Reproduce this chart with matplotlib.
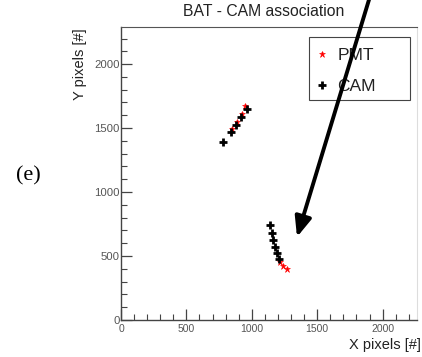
import numpy as np
import matplotlib.pyplot as plt
from matplotlib.ticker import MultipleLocator
from matplotlib.patches import Rectangle

# Reconstructed spot positions (pixel coordinates)
cam_x = [782, 839, 879, 920, 961, 1139, 1152, 1164, 1177, 1190, 1208]
cam_y = [1388, 1466, 1523, 1584, 1646, 742, 677, 625, 570, 523, 477]
pmt_x = [845, 885, 925, 950, 1216, 1241, 1267]
pmt_y = [1490, 1550, 1610, 1672, 453, 422, 396]

x_max = 2263
y_max = 2290

plt.rcParams['font.family'] = ['Liberation Sans', 'DejaVu Sans']

W, H = 422, 357
fig = plt.figure(figsize=(W / 100, H / 100), dpi=100)
ax = fig.add_axes([121 / W, 37 / H, 296 / W, 293 / H])

ax.plot(pmt_x, pmt_y, linestyle='none', marker='*', color='red', markersize=4.5,
        markeredgewidth=0.4, label='PMT')
ax.plot(cam_x, cam_y, linestyle='none', marker='+', color='black', markersize=6,
        markeredgewidth=2.0, label='CAM')

ax.set_xlim(0, x_max)
ax.set_ylim(0, y_max)

ax.xaxis.set_major_locator(MultipleLocator(500))
ax.xaxis.set_minor_locator(MultipleLocator(100))
ax.yaxis.set_major_locator(MultipleLocator(500))
ax.yaxis.set_minor_locator(MultipleLocator(100))
ax.tick_params(which='both', direction='in', top=False, right=False,
               colors='#444444', labelcolor='#555555')
ax.tick_params(which='major', length=8, width=0.9)
ax.tick_params(which='minor', length=4, width=0.8)
ax.tick_params(axis='x', pad=3, labelsize=7.5)
ax.tick_params(axis='y', pad=1, labelsize=8.2)

for side in ['left', 'bottom']:
    ax.spines[side].set_color('#444444')
    ax.spines[side].set_linewidth(1.0)
ax.spines['top'].set_color('#555555')
ax.spines['top'].set_linewidth(0.8)
ax.spines['right'].set_color('#dddddd')
ax.spines['right'].set_linewidth(0.8)

# axis titles, ROOT style: flush with the far ends
fig.text(421 / W, 1 - 345 / H, 'X pixels [#]', fontsize=10.5, ha='right', va='center',
         color='#222222')
fig.text(80 / W, 1 - 28 / H, 'Y pixels [#]', fontsize=10.5, ha='center', va='top',
         rotation=90, color='#222222')

fig.text(264 / W, 1 - 12 / H, 'BAT - CAM association', fontsize=11.3, ha='center',
         va='center', color='#222222')

# legend box
ax.add_patch(Rectangle((309 / W, 1 - 100 / H), 101 / W, 63 / H,
                       transform=fig.transFigure, facecolor='white',
                       edgecolor='#444444', linewidth=0.8, zorder=3, clip_on=False))
leg = ax.legend(loc='upper left', bbox_to_anchor=(312 / W, 1 - 44 / H),
                bbox_transform=fig.transFigure, fontsize=12.5, frameon=False,
                borderpad=0.2, handlelength=0.8, handletextpad=0.45,
                labelspacing=0.95, borderaxespad=0)
leg.set_zorder(4)
for t in leg.get_texts():
    t.set_color('#222222')

fig.text(28 / W, 1 - 176 / H, '(e)', fontsize=16, ha='center', va='center',
         family=['Liberation Serif', 'DejaVu Serif'])

# Pointer arrow drawn in figure coordinates over everything
ax.annotate('', xy=(297 / W, 1 - 237 / H), xycoords='figure fraction',
            xytext=(370 / W, 1.01), textcoords='figure fraction',
            arrowprops=dict(arrowstyle='-|>,head_length=1.2,head_width=0.5',
                            color='black', lw=2.8, shrinkA=0, shrinkB=0),
            annotation_clip=False, zorder=10)

fig.savefig('out.png', dpi=100)
